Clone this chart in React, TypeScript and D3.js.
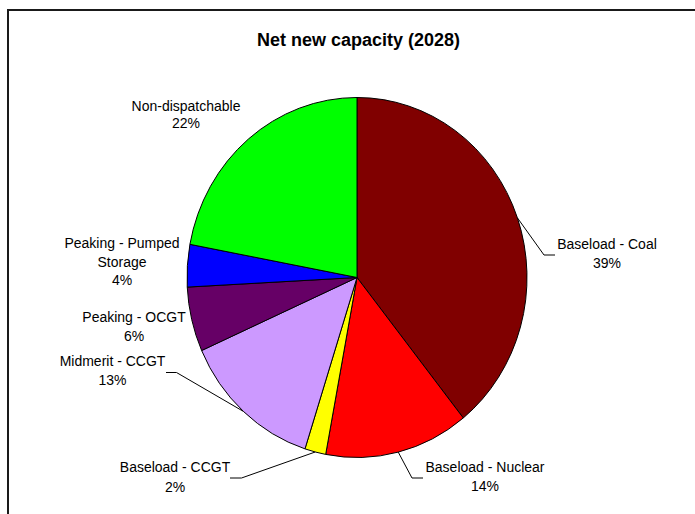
import React from "react";
import * as d3 from "d3";

const categories = [
  "Baseload - Coal",
  "Baseload - Nuclear",
  "Baseload - CCGT",
  "Midmerit - CCGT",
  "Peaking - OCGT",
  "Peaking - Pumped Storage",
  "Non-dispatchable",
];
const values = [39.25, 13.7, 2.0, 13.4, 5.8, 3.8, 22.05];
const colors = ["#800000", "#FF0000", "#FFFF00", "#CC99FF", "#660066", "#0000FF", "#00FF00"];
const labelLines = [
  ["Baseload - Coal"],
  ["Baseload - Nuclear"],
  ["Baseload - CCGT"],
  ["Midmerit - CCGT"],
  ["Peaking - OCGT"],
  ["Peaking - Pumped", "Storage"],
  ["Non-dispatchable"],
];
const title = "Net new capacity (2028)";

// layout (pixel positions of labels and leader elbows)
const labelLayout = [
  { x: 607, y: 249, gap: 19, leader: [544, 255, 555] },
  { x: 485, y: 472, gap: 19, leader: [412, 478, 423] },
  { x: 175, y: 472, gap: 19.5, leader: [241.5, 478, 230] },
  { x: 112.5, y: 366, gap: 19, leader: [176.5, 372.5, 166] },
  { x: 134, y: 322, gap: 19, leader: null },
  { x: 122, y: 248, gap: 18.7, leader: null },
  { x: 186, y: 110.5, gap: 17.5, leader: null },
];

const W = 695;
const H = 514;
const cx = 357;
const cy = 277.5;
const r = 170;
const k = 180 / 170;
const FONT = "'Liberation Sans', Arial, sans-serif";

export default function App() {
  const total = d3.sum(values);
  const pie = d3
    .pie<number>()
    .sort(null)
    .value((d) => d)
    .startAngle(0)
    .endAngle(2 * Math.PI);
  const arcs = pie(values);
  const arc = d3.arc<d3.PieArcDatum<number>>().innerRadius(0).outerRadius(r);
  const edge = d3.arc<d3.PieArcDatum<number>>().innerRadius(r).outerRadius(r);

  return (
    <svg
      width={W}
      height={H}
      style={{ position: "absolute", left: 0, top: 0, background: "#fff" }}
    >
      <rect x={0} y={0} width={W} height={H} fill="#fff" />
      <rect x={8} y={10} width={W + 20} height={H + 20} fill="none" stroke="#1a1a1a" strokeWidth={2} />
      <text
        transform={`translate(${358.5},${46}) scale(1,${k})`}
        textAnchor="middle"
        fontFamily={FONT}
        fontWeight="bold"
        fontSize={18}
        fill="#000"
      >
        {title}
      </text>
      <g transform={`translate(${cx},${cy}) scale(1,${k})`}>
        {arcs.map((a, i) => (
          <path
            key={categories[i]}
            d={arc(a) || ""}
            fill={colors[i]}
            stroke="#000"
            strokeWidth={1}
            vectorEffect="non-scaling-stroke"
            strokeLinejoin="round"
          />
        ))}
      </g>
      {arcs.map((a, i) => {
        const L = labelLayout[i];
        const [ex, ey] = edge.centroid(a);
        const px = cx + ex;
        const py = cy + ey * k;
        const lines = [...labelLines[i], `${Math.round((values[i] / total) * 100)}%`];
        return (
          <g key={"lab" + i}>
            {L.leader && (
              <polyline
                points={`${px},${py} ${L.leader[0]},${L.leader[1]} ${L.leader[2]},${L.leader[1]}`}
                fill="none"
                stroke="#000"
                strokeWidth={1}
              />
            )}
            {lines.map((t, j) => (
              <text
                key={j}
                transform={`translate(${L.x},${L.y + j * L.gap}) scale(1,${k})`}
                textAnchor="middle"
                fontFamily={FONT}
                fontSize={14}
                fill="#000"
              >
                {t}
              </text>
            ))}
          </g>
        );
      })}
    </svg>
  );
}
